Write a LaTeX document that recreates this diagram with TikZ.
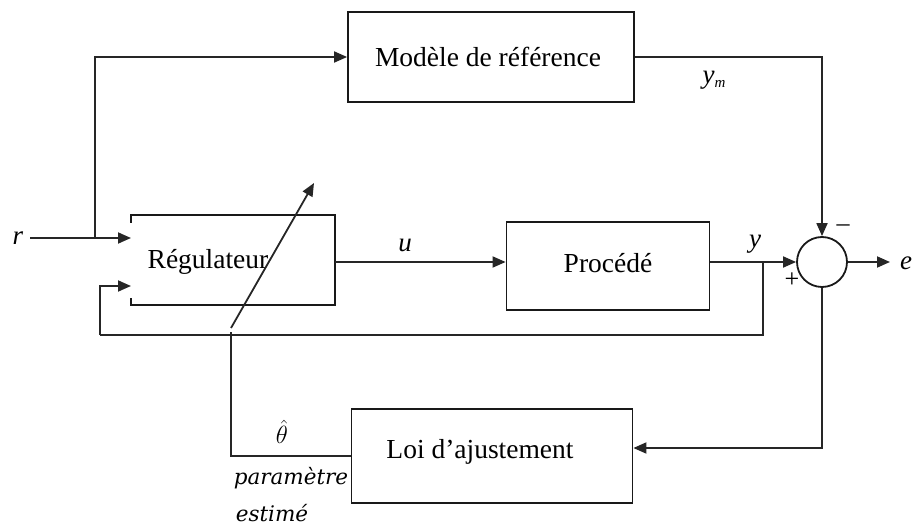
\documentclass[tikz,border=0pt]{standalone}
\usepackage{fontspec}
\setmainfont{Liberation Serif}
\newfontfamily\notefont{DejaVu Serif}
\usetikzlibrary{arrows.meta}
\begin{document}
\begin{tikzpicture}[x=1pt,y=-1pt,
  wire/.style={draw=black!85,line width=1.8pt},
  arr/.style={wire,-{Triangle[length=13pt,width=11pt]}},
  blk/.style={draw=black!90,line width=1.8pt,rectangle,inner sep=0pt},
  frame/.style={rectangle,inner sep=0pt},
  txt/.style={font=\fontsize{27.5}{32}\selectfont,inner sep=0pt},
  sym/.style={font=\fontsize{27}{30}\selectfont\itshape,inner sep=0pt},
  note/.style={font=\fontsize{21.5}{24}\selectfont\notefont\itshape,inner sep=0pt}]
\useasboundingbox (0,0) rectangle (912,526);

% blocks
\node[blk,minimum width=286pt,minimum height=90pt] (mod) at (491,57) {};
\node[txt] (modtxt) at (488,57) {Modèle de référence};
\node[frame,minimum width=204pt,minimum height=90pt] (reg) at (233,260) {};
\node[txt] (regtxt) at (208,262) {Régulateur};
\node[blk,minimum width=203pt,minimum height=88pt] (proc) at (608,266) {};
\node[txt] (proctxt) at (608,263) {Procédé};
\node[blk,minimum width=281pt,minimum height=94pt] (loi) at (492,456) {};
\node[txt] (loitxt) at (480,452) {Loi d’ajustement};
\node[circle,draw=black!90,line width=1.8pt,minimum size=50pt,inner sep=0pt] (sum) at (822,262) {};

% controller frame, open on the left where the inputs enter
\draw[blk] ([yshift=-8pt]reg.north west) -- (reg.north west) -- (reg.north east)
  -- (reg.south east) -- (reg.south west) -- ([yshift=7pt]reg.south west);

% named points
\coordinate (r0) at (30,238);
\coordinate (split) at (95,238);
\coordinate (in1) at (131,238);
\coordinate (in2) at (131,286);
\coordinate (yj) at (763,262);
\coordinate (fbR) at (763,335);
\coordinate (fbL) at (100,335);
\coordinate (eout) at (890,262);
\coordinate (tb) at (231,456);
\coordinate (tm) at (231,328);
\coordinate (tt) at (314,183);

% labels
\node[sym] (rlab) at (18,238) {r};
\node[sym] (ulab) at (405,245) {u};
\node[sym] (ylab) at (755,244) {y};
\node[sym] (ymlab) at (714,80) {y\raisebox{-4pt}{\fontsize{15}{16}\selectfont m}};
\node[sym] (elab) at (906,263) {e};
\node[font=\fontsize{26}{28}\selectfont,inner sep=0pt] (minus) at (843,228) {–};
\node[font=\fontsize{26}{28}\selectfont,inner sep=0pt] (plus) at (792,280) {+};
\node[font=\fontsize{28}{30}\selectfont,inner sep=0pt] (theta) at (282,432) {$\hat{\theta}$};
\node[note] (par) at (291,478) {paramètre};
\node[note] (est) at (272,513) {estimé};

% connectors
\draw[wire] (r0) -- (split);
\draw[arr] (split) -- (in1);
\draw[arr] (split) |- (mod.west);
\draw[arr] (mod.east) -| (sum.north);
\draw[arr] (reg.east |- sum) -- (proc.west |- sum);
\draw[arr] (proc.east |- sum) -- (sum.west);
\draw[arr] (sum.east) -- (eout);
\draw[wire] (yj) -- (fbR) -- (fbL);
\draw[arr] (fbL) |- (in2);
\draw[arr] (sum.south) |- ([yshift=8pt]loi.east);
\draw[wire] (loi.west |- tb) -- (tb) -- ([yshift=-4pt]tm);
\draw[arr] (tm) -- (tt);
\end{tikzpicture}
\end{document}
